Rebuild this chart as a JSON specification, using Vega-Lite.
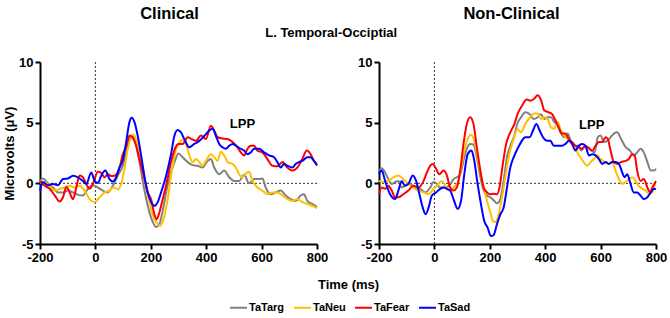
{
"$schema": "https://vega.github.io/schema/vega-lite/v6.json",
"padding": {"left": 3, "top": 5, "right": 2, "bottom": 2},
"title": {"text": "L. Temporal-Occiptial", "anchor": "middle", "fontSize": 13, "fontWeight": "bold", "font": "Liberation Sans", "color": "black", "offset": -34, "dx": -4},
"datasets": {
"erp": [
{"p":"Clinical","s":"TaTarg","t":-200,"v":0.2},{"p":"Clinical","s":"TaTarg","t":-189,"v":0.4},{"p":"Clinical","s":"TaTarg","t":-171,"v":0.0},{"p":"Clinical","s":"TaTarg","t":-153,"v":-0.35},{"p":"Clinical","s":"TaTarg","t":-135,"v":-0.75},{"p":"Clinical","s":"TaTarg","t":-117,"v":-0.75},{"p":"Clinical","s":"TaTarg","t":-99,"v":-0.6},{"p":"Clinical","s":"TaTarg","t":-81,"v":-0.75},{"p":"Clinical","s":"TaTarg","t":-63,"v":-0.95},{"p":"Clinical","s":"TaTarg","t":-45,"v":-1.0},{"p":"Clinical","s":"TaTarg","t":-27,"v":-0.45},{"p":"Clinical","s":"TaTarg","t":-9,"v":-0.15},{"p":"Clinical","s":"TaTarg","t":9,"v":-0.35},{"p":"Clinical","s":"TaTarg","t":27,"v":-0.6},{"p":"Clinical","s":"TaTarg","t":45,"v":-0.75},{"p":"Clinical","s":"TaTarg","t":63,"v":-0.2},{"p":"Clinical","s":"TaTarg","t":81,"v":0.65},{"p":"Clinical","s":"TaTarg","t":99,"v":1.45},{"p":"Clinical","s":"TaTarg","t":111,"v":2.55},{"p":"Clinical","s":"TaTarg","t":123,"v":3.65},{"p":"Clinical","s":"TaTarg","t":133,"v":3.95},{"p":"Clinical","s":"TaTarg","t":143,"v":3.5},{"p":"Clinical","s":"TaTarg","t":159,"v":1.75},{"p":"Clinical","s":"TaTarg","t":174,"v":-0.2},{"p":"Clinical","s":"TaTarg","t":189,"v":-1.85},{"p":"Clinical","s":"TaTarg","t":203,"v":-2.95},{"p":"Clinical","s":"TaTarg","t":219,"v":-3.6},{"p":"Clinical","s":"TaTarg","t":231,"v":-3.35},{"p":"Clinical","s":"TaTarg","t":243,"v":-2.25},{"p":"Clinical","s":"TaTarg","t":258,"v":-0.45},{"p":"Clinical","s":"TaTarg","t":273,"v":0.9},{"p":"Clinical","s":"TaTarg","t":287,"v":1.85},{"p":"Clinical","s":"TaTarg","t":300,"v":2.45},{"p":"Clinical","s":"TaTarg","t":315,"v":2.15},{"p":"Clinical","s":"TaTarg","t":333,"v":1.75},{"p":"Clinical","s":"TaTarg","t":351,"v":1.5},{"p":"Clinical","s":"TaTarg","t":369,"v":1.45},{"p":"Clinical","s":"TaTarg","t":387,"v":1.3},{"p":"Clinical","s":"TaTarg","t":405,"v":1.85},{"p":"Clinical","s":"TaTarg","t":417,"v":2.0},{"p":"Clinical","s":"TaTarg","t":429,"v":1.3},{"p":"Clinical","s":"TaTarg","t":447,"v":0.75},{"p":"Clinical","s":"TaTarg","t":465,"v":1.05},{"p":"Clinical","s":"TaTarg","t":483,"v":0.5},{"p":"Clinical","s":"TaTarg","t":501,"v":0.2},{"p":"Clinical","s":"TaTarg","t":519,"v":0.2},{"p":"Clinical","s":"TaTarg","t":537,"v":0.7},{"p":"Clinical","s":"TaTarg","t":555,"v":0.0},{"p":"Clinical","s":"TaTarg","t":573,"v":0.35},{"p":"Clinical","s":"TaTarg","t":591,"v":0.35},{"p":"Clinical","s":"TaTarg","t":603,"v":0.4},{"p":"Clinical","s":"TaTarg","t":615,"v":-0.35},{"p":"Clinical","s":"TaTarg","t":633,"v":-0.9},{"p":"Clinical","s":"TaTarg","t":651,"v":-0.75},{"p":"Clinical","s":"TaTarg","t":669,"v":-0.6},{"p":"Clinical","s":"TaTarg","t":687,"v":-1.0},{"p":"Clinical","s":"TaTarg","t":705,"v":-1.3},{"p":"Clinical","s":"TaTarg","t":723,"v":-1.45},{"p":"Clinical","s":"TaTarg","t":741,"v":-1.0},{"p":"Clinical","s":"TaTarg","t":753,"v":-0.9},{"p":"Clinical","s":"TaTarg","t":765,"v":-1.45},{"p":"Clinical","s":"TaTarg","t":783,"v":-1.7},{"p":"Clinical","s":"TaTarg","t":800,"v":-1.95},
{"p":"Clinical","s":"TaNeu","t":-200,"v":0.0},{"p":"Clinical","s":"TaNeu","t":-183,"v":0.1},{"p":"Clinical","s":"TaNeu","t":-165,"v":-0.2},{"p":"Clinical","s":"TaNeu","t":-147,"v":-0.6},{"p":"Clinical","s":"TaNeu","t":-129,"v":-0.45},{"p":"Clinical","s":"TaNeu","t":-111,"v":-0.35},{"p":"Clinical","s":"TaNeu","t":-93,"v":-0.2},{"p":"Clinical","s":"TaNeu","t":-75,"v":-0.35},{"p":"Clinical","s":"TaNeu","t":-57,"v":-0.2},{"p":"Clinical","s":"TaNeu","t":-39,"v":-0.6},{"p":"Clinical","s":"TaNeu","t":-21,"v":-1.3},{"p":"Clinical","s":"TaNeu","t":-3,"v":-1.55},{"p":"Clinical","s":"TaNeu","t":15,"v":-1.15},{"p":"Clinical","s":"TaNeu","t":33,"v":-0.75},{"p":"Clinical","s":"TaNeu","t":51,"v":-0.6},{"p":"Clinical","s":"TaNeu","t":66,"v":-0.35},{"p":"Clinical","s":"TaNeu","t":81,"v":-0.5},{"p":"Clinical","s":"TaNeu","t":93,"v":-0.05},{"p":"Clinical","s":"TaNeu","t":105,"v":1.2},{"p":"Clinical","s":"TaNeu","t":117,"v":2.85},{"p":"Clinical","s":"TaNeu","t":129,"v":3.8},{"p":"Clinical","s":"TaNeu","t":138,"v":4.0},{"p":"Clinical","s":"TaNeu","t":150,"v":3.4},{"p":"Clinical","s":"TaNeu","t":165,"v":1.75},{"p":"Clinical","s":"TaNeu","t":179,"v":0.1},{"p":"Clinical","s":"TaNeu","t":195,"v":-1.55},{"p":"Clinical","s":"TaNeu","t":210,"v":-2.8},{"p":"Clinical","s":"TaNeu","t":225,"v":-3.35},{"p":"Clinical","s":"TaNeu","t":234,"v":-3.5},{"p":"Clinical","s":"TaNeu","t":246,"v":-2.95},{"p":"Clinical","s":"TaNeu","t":261,"v":-1.3},{"p":"Clinical","s":"TaNeu","t":275,"v":0.9},{"p":"Clinical","s":"TaNeu","t":290,"v":2.7},{"p":"Clinical","s":"TaNeu","t":304,"v":3.4},{"p":"Clinical","s":"TaNeu","t":315,"v":3.6},{"p":"Clinical","s":"TaNeu","t":327,"v":3.25},{"p":"Clinical","s":"TaNeu","t":339,"v":2.3},{"p":"Clinical","s":"TaNeu","t":351,"v":1.75},{"p":"Clinical","s":"TaNeu","t":363,"v":2.0},{"p":"Clinical","s":"TaNeu","t":375,"v":1.75},{"p":"Clinical","s":"TaNeu","t":387,"v":1.45},{"p":"Clinical","s":"TaNeu","t":399,"v":1.85},{"p":"Clinical","s":"TaNeu","t":417,"v":2.4},{"p":"Clinical","s":"TaNeu","t":429,"v":2.15},{"p":"Clinical","s":"TaNeu","t":441,"v":1.85},{"p":"Clinical","s":"TaNeu","t":453,"v":2.6},{"p":"Clinical","s":"TaNeu","t":465,"v":2.3},{"p":"Clinical","s":"TaNeu","t":477,"v":1.75},{"p":"Clinical","s":"TaNeu","t":495,"v":1.6},{"p":"Clinical","s":"TaNeu","t":507,"v":1.3},{"p":"Clinical","s":"TaNeu","t":519,"v":0.75},{"p":"Clinical","s":"TaNeu","t":531,"v":0.5},{"p":"Clinical","s":"TaNeu","t":543,"v":0.8},{"p":"Clinical","s":"TaNeu","t":555,"v":0.95},{"p":"Clinical","s":"TaNeu","t":567,"v":0.2},{"p":"Clinical","s":"TaNeu","t":585,"v":-0.35},{"p":"Clinical","s":"TaNeu","t":603,"v":-0.6},{"p":"Clinical","s":"TaNeu","t":621,"v":-0.9},{"p":"Clinical","s":"TaNeu","t":639,"v":-0.75},{"p":"Clinical","s":"TaNeu","t":657,"v":-0.75},{"p":"Clinical","s":"TaNeu","t":675,"v":-1.0},{"p":"Clinical","s":"TaNeu","t":693,"v":-1.3},{"p":"Clinical","s":"TaNeu","t":711,"v":-1.45},{"p":"Clinical","s":"TaNeu","t":729,"v":-1.3},{"p":"Clinical","s":"TaNeu","t":747,"v":-1.55},{"p":"Clinical","s":"TaNeu","t":765,"v":-1.7},{"p":"Clinical","s":"TaNeu","t":783,"v":-1.85},{"p":"Clinical","s":"TaNeu","t":800,"v":-2.05},
{"p":"Clinical","s":"TaFear","t":-200,"v":0.15},{"p":"Clinical","s":"TaFear","t":-183,"v":-0.2},{"p":"Clinical","s":"TaFear","t":-165,"v":-0.45},{"p":"Clinical","s":"TaFear","t":-147,"v":-1.0},{"p":"Clinical","s":"TaFear","t":-129,"v":-1.5},{"p":"Clinical","s":"TaFear","t":-117,"v":-1.15},{"p":"Clinical","s":"TaFear","t":-105,"v":-0.3},{"p":"Clinical","s":"TaFear","t":-93,"v":-0.75},{"p":"Clinical","s":"TaFear","t":-81,"v":-1.3},{"p":"Clinical","s":"TaFear","t":-69,"v":-0.35},{"p":"Clinical","s":"TaFear","t":-57,"v":0.65},{"p":"Clinical","s":"TaFear","t":-45,"v":0.5},{"p":"Clinical","s":"TaFear","t":-33,"v":-0.05},{"p":"Clinical","s":"TaFear","t":-21,"v":-0.45},{"p":"Clinical","s":"TaFear","t":-9,"v":-0.05},{"p":"Clinical","s":"TaFear","t":9,"v":0.95},{"p":"Clinical","s":"TaFear","t":21,"v":0.85},{"p":"Clinical","s":"TaFear","t":33,"v":0.5},{"p":"Clinical","s":"TaFear","t":45,"v":0.75},{"p":"Clinical","s":"TaFear","t":57,"v":0.6},{"p":"Clinical","s":"TaFear","t":71,"v":0.65},{"p":"Clinical","s":"TaFear","t":87,"v":1.3},{"p":"Clinical","s":"TaFear","t":99,"v":2.4},{"p":"Clinical","s":"TaFear","t":111,"v":3.0},{"p":"Clinical","s":"TaFear","t":123,"v":3.95},{"p":"Clinical","s":"TaFear","t":133,"v":3.8},{"p":"Clinical","s":"TaFear","t":147,"v":3.1},{"p":"Clinical","s":"TaFear","t":159,"v":2.0},{"p":"Clinical","s":"TaFear","t":174,"v":0.65},{"p":"Clinical","s":"TaFear","t":189,"v":-0.75},{"p":"Clinical","s":"TaFear","t":201,"v":-1.3},{"p":"Clinical","s":"TaFear","t":213,"v":-2.55},{"p":"Clinical","s":"TaFear","t":221,"v":-2.95},{"p":"Clinical","s":"TaFear","t":231,"v":-2.4},{"p":"Clinical","s":"TaFear","t":243,"v":-1.3},{"p":"Clinical","s":"TaFear","t":255,"v":-0.2},{"p":"Clinical","s":"TaFear","t":273,"v":1.75},{"p":"Clinical","s":"TaFear","t":287,"v":2.85},{"p":"Clinical","s":"TaFear","t":300,"v":3.25},{"p":"Clinical","s":"TaFear","t":315,"v":3.25},{"p":"Clinical","s":"TaFear","t":333,"v":3.8},{"p":"Clinical","s":"TaFear","t":347,"v":3.65},{"p":"Clinical","s":"TaFear","t":363,"v":3.5},{"p":"Clinical","s":"TaFear","t":381,"v":3.95},{"p":"Clinical","s":"TaFear","t":399,"v":3.65},{"p":"Clinical","s":"TaFear","t":417,"v":4.75},{"p":"Clinical","s":"TaFear","t":429,"v":4.35},{"p":"Clinical","s":"TaFear","t":441,"v":3.8},{"p":"Clinical","s":"TaFear","t":459,"v":3.7},{"p":"Clinical","s":"TaFear","t":477,"v":3.65},{"p":"Clinical","s":"TaFear","t":495,"v":3.4},{"p":"Clinical","s":"TaFear","t":513,"v":2.97},{"p":"Clinical","s":"TaFear","t":525,"v":2.55},{"p":"Clinical","s":"TaFear","t":537,"v":2.3},{"p":"Clinical","s":"TaFear","t":549,"v":2.85},{"p":"Clinical","s":"TaFear","t":561,"v":3.1},{"p":"Clinical","s":"TaFear","t":573,"v":3.1},{"p":"Clinical","s":"TaFear","t":585,"v":2.7},{"p":"Clinical","s":"TaFear","t":603,"v":2.55},{"p":"Clinical","s":"TaFear","t":621,"v":2.0},{"p":"Clinical","s":"TaFear","t":639,"v":1.45},{"p":"Clinical","s":"TaFear","t":657,"v":1.4},{"p":"Clinical","s":"TaFear","t":675,"v":1.75},{"p":"Clinical","s":"TaFear","t":693,"v":1.3},{"p":"Clinical","s":"TaFear","t":711,"v":1.05},{"p":"Clinical","s":"TaFear","t":729,"v":1.3},{"p":"Clinical","s":"TaFear","t":747,"v":2.0},{"p":"Clinical","s":"TaFear","t":763,"v":2.7},{"p":"Clinical","s":"TaFear","t":777,"v":2.4},{"p":"Clinical","s":"TaFear","t":789,"v":1.85},{"p":"Clinical","s":"TaFear","t":800,"v":1.45},
{"p":"Clinical","s":"TaSad","t":-200,"v":-0.6},{"p":"Clinical","s":"TaSad","t":-189,"v":0.1},{"p":"Clinical","s":"TaSad","t":-171,"v":-0.15},{"p":"Clinical","s":"TaSad","t":-153,"v":-0.05},{"p":"Clinical","s":"TaSad","t":-135,"v":-0.15},{"p":"Clinical","s":"TaSad","t":-117,"v":0.35},{"p":"Clinical","s":"TaSad","t":-99,"v":0.4},{"p":"Clinical","s":"TaSad","t":-81,"v":0.63},{"p":"Clinical","s":"TaSad","t":-63,"v":0.5},{"p":"Clinical","s":"TaSad","t":-45,"v":0.2},{"p":"Clinical","s":"TaSad","t":-33,"v":-0.05},{"p":"Clinical","s":"TaSad","t":-15,"v":0.9},{"p":"Clinical","s":"TaSad","t":-3,"v":0.2},{"p":"Clinical","s":"TaSad","t":9,"v":0.03},{"p":"Clinical","s":"TaSad","t":21,"v":0.63},{"p":"Clinical","s":"TaSad","t":36,"v":1.05},{"p":"Clinical","s":"TaSad","t":51,"v":0.35},{"p":"Clinical","s":"TaSad","t":63,"v":0.15},{"p":"Clinical","s":"TaSad","t":75,"v":0.5},{"p":"Clinical","s":"TaSad","t":87,"v":1.3},{"p":"Clinical","s":"TaSad","t":99,"v":1.9},{"p":"Clinical","s":"TaSad","t":111,"v":3.4},{"p":"Clinical","s":"TaSad","t":123,"v":5.05},{"p":"Clinical","s":"TaSad","t":131,"v":5.4},{"p":"Clinical","s":"TaSad","t":141,"v":5.05},{"p":"Clinical","s":"TaSad","t":153,"v":3.9},{"p":"Clinical","s":"TaSad","t":165,"v":2.3},{"p":"Clinical","s":"TaSad","t":177,"v":0.6},{"p":"Clinical","s":"TaSad","t":189,"v":-0.75},{"p":"Clinical","s":"TaSad","t":201,"v":-1.55},{"p":"Clinical","s":"TaSad","t":213,"v":-1.85},{"p":"Clinical","s":"TaSad","t":225,"v":-1.55},{"p":"Clinical","s":"TaSad","t":237,"v":-0.75},{"p":"Clinical","s":"TaSad","t":255,"v":0.6},{"p":"Clinical","s":"TaSad","t":273,"v":2.4},{"p":"Clinical","s":"TaSad","t":285,"v":3.9},{"p":"Clinical","s":"TaSad","t":297,"v":4.4},{"p":"Clinical","s":"TaSad","t":309,"v":4.2},{"p":"Clinical","s":"TaSad","t":321,"v":3.65},{"p":"Clinical","s":"TaSad","t":339,"v":2.97},{"p":"Clinical","s":"TaSad","t":357,"v":3.25},{"p":"Clinical","s":"TaSad","t":375,"v":3.5},{"p":"Clinical","s":"TaSad","t":393,"v":3.9},{"p":"Clinical","s":"TaSad","t":411,"v":4.35},{"p":"Clinical","s":"TaSad","t":423,"v":4.5},{"p":"Clinical","s":"TaSad","t":435,"v":3.9},{"p":"Clinical","s":"TaSad","t":447,"v":3.25},{"p":"Clinical","s":"TaSad","t":459,"v":2.97},{"p":"Clinical","s":"TaSad","t":471,"v":2.85},{"p":"Clinical","s":"TaSad","t":483,"v":3.1},{"p":"Clinical","s":"TaSad","t":495,"v":3.25},{"p":"Clinical","s":"TaSad","t":507,"v":3.1},{"p":"Clinical","s":"TaSad","t":525,"v":2.85},{"p":"Clinical","s":"TaSad","t":537,"v":2.7},{"p":"Clinical","s":"TaSad","t":549,"v":2.4},{"p":"Clinical","s":"TaSad","t":561,"v":2.55},{"p":"Clinical","s":"TaSad","t":573,"v":2.85},{"p":"Clinical","s":"TaSad","t":591,"v":2.85},{"p":"Clinical","s":"TaSad","t":609,"v":2.55},{"p":"Clinical","s":"TaSad","t":627,"v":2.3},{"p":"Clinical","s":"TaSad","t":645,"v":2.15},{"p":"Clinical","s":"TaSad","t":657,"v":1.75},{"p":"Clinical","s":"TaSad","t":669,"v":1.3},{"p":"Clinical","s":"TaSad","t":681,"v":1.6},{"p":"Clinical","s":"TaSad","t":693,"v":1.45},{"p":"Clinical","s":"TaSad","t":711,"v":1.3},{"p":"Clinical","s":"TaSad","t":723,"v":1.6},{"p":"Clinical","s":"TaSad","t":735,"v":1.75},{"p":"Clinical","s":"TaSad","t":747,"v":1.85},{"p":"Clinical","s":"TaSad","t":765,"v":2.15},{"p":"Clinical","s":"TaSad","t":777,"v":2.15},{"p":"Clinical","s":"TaSad","t":789,"v":1.85},{"p":"Clinical","s":"TaSad","t":800,"v":1.55},
{"p":"Non-Clinical","s":"TaTarg","t":-200,"v":1.05},{"p":"Non-Clinical","s":"TaTarg","t":-190,"v":1.25},{"p":"Non-Clinical","s":"TaTarg","t":-178,"v":0.9},{"p":"Non-Clinical","s":"TaTarg","t":-166,"v":0.35},{"p":"Non-Clinical","s":"TaTarg","t":-154,"v":-0.05},{"p":"Non-Clinical","s":"TaTarg","t":-142,"v":0.1},{"p":"Non-Clinical","s":"TaTarg","t":-130,"v":0.2},{"p":"Non-Clinical","s":"TaTarg","t":-118,"v":-0.35},{"p":"Non-Clinical","s":"TaTarg","t":-106,"v":-0.2},{"p":"Non-Clinical","s":"TaTarg","t":-88,"v":-0.05},{"p":"Non-Clinical","s":"TaTarg","t":-70,"v":-0.35},{"p":"Non-Clinical","s":"TaTarg","t":-51,"v":-0.45},{"p":"Non-Clinical","s":"TaTarg","t":-33,"v":-0.75},{"p":"Non-Clinical","s":"TaTarg","t":-15,"v":-0.35},{"p":"Non-Clinical","s":"TaTarg","t":-3,"v":0.1},{"p":"Non-Clinical","s":"TaTarg","t":9,"v":-0.05},{"p":"Non-Clinical","s":"TaTarg","t":21,"v":-0.35},{"p":"Non-Clinical","s":"TaTarg","t":33,"v":-0.35},{"p":"Non-Clinical","s":"TaTarg","t":45,"v":-0.3},{"p":"Non-Clinical","s":"TaTarg","t":57,"v":-0.1},{"p":"Non-Clinical","s":"TaTarg","t":69,"v":0.35},{"p":"Non-Clinical","s":"TaTarg","t":81,"v":0.5},{"p":"Non-Clinical","s":"TaTarg","t":93,"v":0.75},{"p":"Non-Clinical","s":"TaTarg","t":105,"v":1.85},{"p":"Non-Clinical","s":"TaTarg","t":117,"v":2.85},{"p":"Non-Clinical","s":"TaTarg","t":129,"v":3.25},{"p":"Non-Clinical","s":"TaTarg","t":141,"v":3.2},{"p":"Non-Clinical","s":"TaTarg","t":153,"v":2.15},{"p":"Non-Clinical","s":"TaTarg","t":166,"v":0.5},{"p":"Non-Clinical","s":"TaTarg","t":178,"v":-0.6},{"p":"Non-Clinical","s":"TaTarg","t":190,"v":-1.0},{"p":"Non-Clinical","s":"TaTarg","t":202,"v":-1.15},{"p":"Non-Clinical","s":"TaTarg","t":214,"v":-1.4},{"p":"Non-Clinical","s":"TaTarg","t":226,"v":-1.65},{"p":"Non-Clinical","s":"TaTarg","t":238,"v":-1.3},{"p":"Non-Clinical","s":"TaTarg","t":250,"v":0.2},{"p":"Non-Clinical","s":"TaTarg","t":262,"v":2.15},{"p":"Non-Clinical","s":"TaTarg","t":274,"v":3.1},{"p":"Non-Clinical","s":"TaTarg","t":289,"v":3.95},{"p":"Non-Clinical","s":"TaTarg","t":300,"v":4.95},{"p":"Non-Clinical","s":"TaTarg","t":313,"v":5.45},{"p":"Non-Clinical","s":"TaTarg","t":328,"v":5.85},{"p":"Non-Clinical","s":"TaTarg","t":344,"v":5.7},{"p":"Non-Clinical","s":"TaTarg","t":358,"v":5.3},{"p":"Non-Clinical","s":"TaTarg","t":373,"v":5.45},{"p":"Non-Clinical","s":"TaTarg","t":385,"v":5.7},{"p":"Non-Clinical","s":"TaTarg","t":397,"v":5.3},{"p":"Non-Clinical","s":"TaTarg","t":409,"v":5.45},{"p":"Non-Clinical","s":"TaTarg","t":421,"v":5.45},{"p":"Non-Clinical","s":"TaTarg","t":433,"v":5.05},{"p":"Non-Clinical","s":"TaTarg","t":445,"v":4.75},{"p":"Non-Clinical","s":"TaTarg","t":457,"v":4.1},{"p":"Non-Clinical","s":"TaTarg","t":469,"v":3.8},{"p":"Non-Clinical","s":"TaTarg","t":481,"v":4.1},{"p":"Non-Clinical","s":"TaTarg","t":494,"v":3.4},{"p":"Non-Clinical","s":"TaTarg","t":506,"v":3.1},{"p":"Non-Clinical","s":"TaTarg","t":518,"v":3.1},{"p":"Non-Clinical","s":"TaTarg","t":530,"v":2.7},{"p":"Non-Clinical","s":"TaTarg","t":542,"v":3.0},{"p":"Non-Clinical","s":"TaTarg","t":554,"v":3.0},{"p":"Non-Clinical","s":"TaTarg","t":566,"v":2.7},{"p":"Non-Clinical","s":"TaTarg","t":578,"v":2.55},{"p":"Non-Clinical","s":"TaTarg","t":590,"v":3.8},{"p":"Non-Clinical","s":"TaTarg","t":600,"v":3.95},{"p":"Non-Clinical","s":"TaTarg","t":612,"v":3.4},{"p":"Non-Clinical","s":"TaTarg","t":624,"v":3.5},{"p":"Non-Clinical","s":"TaTarg","t":636,"v":3.8},{"p":"Non-Clinical","s":"TaTarg","t":648,"v":4.1},{"p":"Non-Clinical","s":"TaTarg","t":660,"v":4.2},{"p":"Non-Clinical","s":"TaTarg","t":674,"v":3.65},{"p":"Non-Clinical","s":"TaTarg","t":690,"v":3.0},{"p":"Non-Clinical","s":"TaTarg","t":706,"v":2.7},{"p":"Non-Clinical","s":"TaTarg","t":720,"v":2.3},{"p":"Non-Clinical","s":"TaTarg","t":732,"v":2.55},{"p":"Non-Clinical","s":"TaTarg","t":744,"v":2.85},{"p":"Non-Clinical","s":"TaTarg","t":756,"v":2.55},{"p":"Non-Clinical","s":"TaTarg","t":769,"v":1.75},{"p":"Non-Clinical","s":"TaTarg","t":781,"v":1.05},{"p":"Non-Clinical","s":"TaTarg","t":793,"v":1.05},{"p":"Non-Clinical","s":"TaTarg","t":800,"v":1.2},
{"p":"Non-Clinical","s":"TaNeu","t":-200,"v":0.2},{"p":"Non-Clinical","s":"TaNeu","t":-184,"v":0.1},{"p":"Non-Clinical","s":"TaNeu","t":-166,"v":0.2},{"p":"Non-Clinical","s":"TaNeu","t":-148,"v":0.5},{"p":"Non-Clinical","s":"TaNeu","t":-130,"v":0.65},{"p":"Non-Clinical","s":"TaNeu","t":-112,"v":0.35},{"p":"Non-Clinical","s":"TaNeu","t":-94,"v":-0.05},{"p":"Non-Clinical","s":"TaNeu","t":-76,"v":-0.35},{"p":"Non-Clinical","s":"TaNeu","t":-57,"v":-0.6},{"p":"Non-Clinical","s":"TaNeu","t":-39,"v":-0.75},{"p":"Non-Clinical","s":"TaNeu","t":-21,"v":-0.9},{"p":"Non-Clinical","s":"TaNeu","t":-3,"v":-0.45},{"p":"Non-Clinical","s":"TaNeu","t":15,"v":-0.05},{"p":"Non-Clinical","s":"TaNeu","t":27,"v":0.2},{"p":"Non-Clinical","s":"TaNeu","t":39,"v":-0.2},{"p":"Non-Clinical","s":"TaNeu","t":51,"v":-0.6},{"p":"Non-Clinical","s":"TaNeu","t":63,"v":-0.45},{"p":"Non-Clinical","s":"TaNeu","t":75,"v":-0.2},{"p":"Non-Clinical","s":"TaNeu","t":87,"v":0.2},{"p":"Non-Clinical","s":"TaNeu","t":99,"v":1.6},{"p":"Non-Clinical","s":"TaNeu","t":111,"v":3.0},{"p":"Non-Clinical","s":"TaNeu","t":123,"v":3.8},{"p":"Non-Clinical","s":"TaNeu","t":133,"v":4.0},{"p":"Non-Clinical","s":"TaNeu","t":145,"v":3.4},{"p":"Non-Clinical","s":"TaNeu","t":160,"v":1.6},{"p":"Non-Clinical","s":"TaNeu","t":175,"v":-0.05},{"p":"Non-Clinical","s":"TaNeu","t":190,"v":-1.45},{"p":"Non-Clinical","s":"TaNeu","t":202,"v":-2.4},{"p":"Non-Clinical","s":"TaNeu","t":211,"v":-3.1},{"p":"Non-Clinical","s":"TaNeu","t":221,"v":-3.2},{"p":"Non-Clinical","s":"TaNeu","t":232,"v":-2.55},{"p":"Non-Clinical","s":"TaNeu","t":244,"v":-1.15},{"p":"Non-Clinical","s":"TaNeu","t":256,"v":0.5},{"p":"Non-Clinical","s":"TaNeu","t":268,"v":2.15},{"p":"Non-Clinical","s":"TaNeu","t":286,"v":3.65},{"p":"Non-Clinical","s":"TaNeu","t":300,"v":4.45},{"p":"Non-Clinical","s":"TaNeu","t":313,"v":4.2},{"p":"Non-Clinical","s":"TaNeu","t":328,"v":4.9},{"p":"Non-Clinical","s":"TaNeu","t":346,"v":5.45},{"p":"Non-Clinical","s":"TaNeu","t":361,"v":5.75},{"p":"Non-Clinical","s":"TaNeu","t":373,"v":5.75},{"p":"Non-Clinical","s":"TaNeu","t":385,"v":5.3},{"p":"Non-Clinical","s":"TaNeu","t":397,"v":5.45},{"p":"Non-Clinical","s":"TaNeu","t":409,"v":5.3},{"p":"Non-Clinical","s":"TaNeu","t":421,"v":4.6},{"p":"Non-Clinical","s":"TaNeu","t":433,"v":4.5},{"p":"Non-Clinical","s":"TaNeu","t":445,"v":5.05},{"p":"Non-Clinical","s":"TaNeu","t":457,"v":4.35},{"p":"Non-Clinical","s":"TaNeu","t":469,"v":3.95},{"p":"Non-Clinical","s":"TaNeu","t":481,"v":3.65},{"p":"Non-Clinical","s":"TaNeu","t":494,"v":3.5},{"p":"Non-Clinical","s":"TaNeu","t":509,"v":2.85},{"p":"Non-Clinical","s":"TaNeu","t":527,"v":2.15},{"p":"Non-Clinical","s":"TaNeu","t":539,"v":1.75},{"p":"Non-Clinical","s":"TaNeu","t":551,"v":1.45},{"p":"Non-Clinical","s":"TaNeu","t":564,"v":1.75},{"p":"Non-Clinical","s":"TaNeu","t":576,"v":2.0},{"p":"Non-Clinical","s":"TaNeu","t":588,"v":2.3},{"p":"Non-Clinical","s":"TaNeu","t":600,"v":2.0},{"p":"Non-Clinical","s":"TaNeu","t":614,"v":1.75},{"p":"Non-Clinical","s":"TaNeu","t":630,"v":1.6},{"p":"Non-Clinical","s":"TaNeu","t":642,"v":1.75},{"p":"Non-Clinical","s":"TaNeu","t":654,"v":1.05},{"p":"Non-Clinical","s":"TaNeu","t":666,"v":0.35},{"p":"Non-Clinical","s":"TaNeu","t":678,"v":-0.05},{"p":"Non-Clinical","s":"TaNeu","t":690,"v":0.1},{"p":"Non-Clinical","s":"TaNeu","t":702,"v":0.35},{"p":"Non-Clinical","s":"TaNeu","t":714,"v":0.5},{"p":"Non-Clinical","s":"TaNeu","t":726,"v":0.2},{"p":"Non-Clinical","s":"TaNeu","t":738,"v":-0.2},{"p":"Non-Clinical","s":"TaNeu","t":750,"v":-0.45},{"p":"Non-Clinical","s":"TaNeu","t":763,"v":-0.6},{"p":"Non-Clinical","s":"TaNeu","t":775,"v":-0.9},{"p":"Non-Clinical","s":"TaNeu","t":787,"v":-0.75},{"p":"Non-Clinical","s":"TaNeu","t":795,"v":-0.2},{"p":"Non-Clinical","s":"TaNeu","t":800,"v":-0.1},
{"p":"Non-Clinical","s":"TaFear","t":-200,"v":-0.9},{"p":"Non-Clinical","s":"TaFear","t":-190,"v":-0.35},{"p":"Non-Clinical","s":"TaFear","t":-178,"v":-0.45},{"p":"Non-Clinical","s":"TaFear","t":-166,"v":-0.2},{"p":"Non-Clinical","s":"TaFear","t":-154,"v":-0.6},{"p":"Non-Clinical","s":"TaFear","t":-142,"v":-1.15},{"p":"Non-Clinical","s":"TaFear","t":-130,"v":-1.15},{"p":"Non-Clinical","s":"TaFear","t":-112,"v":-0.9},{"p":"Non-Clinical","s":"TaFear","t":-94,"v":-0.6},{"p":"Non-Clinical","s":"TaFear","t":-76,"v":-0.2},{"p":"Non-Clinical","s":"TaFear","t":-57,"v":-0.35},{"p":"Non-Clinical","s":"TaFear","t":-39,"v":0.2},{"p":"Non-Clinical","s":"TaFear","t":-27,"v":0.9},{"p":"Non-Clinical","s":"TaFear","t":-15,"v":1.45},{"p":"Non-Clinical","s":"TaFear","t":-6,"v":1.6},{"p":"Non-Clinical","s":"TaFear","t":6,"v":1.2},{"p":"Non-Clinical","s":"TaFear","t":18,"v":0.75},{"p":"Non-Clinical","s":"TaFear","t":33,"v":1.05},{"p":"Non-Clinical","s":"TaFear","t":45,"v":0.65},{"p":"Non-Clinical","s":"TaFear","t":57,"v":-0.35},{"p":"Non-Clinical","s":"TaFear","t":69,"v":-0.6},{"p":"Non-Clinical","s":"TaFear","t":81,"v":-0.35},{"p":"Non-Clinical","s":"TaFear","t":93,"v":1.05},{"p":"Non-Clinical","s":"TaFear","t":105,"v":3.25},{"p":"Non-Clinical","s":"TaFear","t":117,"v":4.9},{"p":"Non-Clinical","s":"TaFear","t":129,"v":5.45},{"p":"Non-Clinical","s":"TaFear","t":141,"v":4.9},{"p":"Non-Clinical","s":"TaFear","t":153,"v":3.0},{"p":"Non-Clinical","s":"TaFear","t":166,"v":1.05},{"p":"Non-Clinical","s":"TaFear","t":178,"v":-0.35},{"p":"Non-Clinical","s":"TaFear","t":190,"v":-0.75},{"p":"Non-Clinical","s":"TaFear","t":202,"v":-0.9},{"p":"Non-Clinical","s":"TaFear","t":214,"v":-0.85},{"p":"Non-Clinical","s":"TaFear","t":226,"v":-0.9},{"p":"Non-Clinical","s":"TaFear","t":235,"v":-0.35},{"p":"Non-Clinical","s":"TaFear","t":247,"v":1.6},{"p":"Non-Clinical","s":"TaFear","t":259,"v":3.25},{"p":"Non-Clinical","s":"TaFear","t":274,"v":4.2},{"p":"Non-Clinical","s":"TaFear","t":289,"v":4.9},{"p":"Non-Clinical","s":"TaFear","t":300,"v":5.7},{"p":"Non-Clinical","s":"TaFear","t":316,"v":6.4},{"p":"Non-Clinical","s":"TaFear","t":334,"v":6.9},{"p":"Non-Clinical","s":"TaFear","t":346,"v":6.8},{"p":"Non-Clinical","s":"TaFear","t":359,"v":6.95},{"p":"Non-Clinical","s":"TaFear","t":373,"v":7.25},{"p":"Non-Clinical","s":"TaFear","t":385,"v":6.85},{"p":"Non-Clinical","s":"TaFear","t":397,"v":6.0},{"p":"Non-Clinical","s":"TaFear","t":413,"v":5.85},{"p":"Non-Clinical","s":"TaFear","t":425,"v":5.7},{"p":"Non-Clinical","s":"TaFear","t":437,"v":5.2},{"p":"Non-Clinical","s":"TaFear","t":449,"v":4.6},{"p":"Non-Clinical","s":"TaFear","t":461,"v":4.1},{"p":"Non-Clinical","s":"TaFear","t":473,"v":4.1},{"p":"Non-Clinical","s":"TaFear","t":485,"v":3.65},{"p":"Non-Clinical","s":"TaFear","t":497,"v":3.4},{"p":"Non-Clinical","s":"TaFear","t":509,"v":3.1},{"p":"Non-Clinical","s":"TaFear","t":521,"v":3.0},{"p":"Non-Clinical","s":"TaFear","t":533,"v":2.85},{"p":"Non-Clinical","s":"TaFear","t":545,"v":3.1},{"p":"Non-Clinical","s":"TaFear","t":558,"v":2.85},{"p":"Non-Clinical","s":"TaFear","t":570,"v":2.7},{"p":"Non-Clinical","s":"TaFear","t":582,"v":3.1},{"p":"Non-Clinical","s":"TaFear","t":594,"v":3.4},{"p":"Non-Clinical","s":"TaFear","t":606,"v":3.4},{"p":"Non-Clinical","s":"TaFear","t":618,"v":3.8},{"p":"Non-Clinical","s":"TaFear","t":626,"v":3.65},{"p":"Non-Clinical","s":"TaFear","t":636,"v":2.7},{"p":"Non-Clinical","s":"TaFear","t":648,"v":1.75},{"p":"Non-Clinical","s":"TaFear","t":660,"v":1.6},{"p":"Non-Clinical","s":"TaFear","t":674,"v":1.75},{"p":"Non-Clinical","s":"TaFear","t":690,"v":1.85},{"p":"Non-Clinical","s":"TaFear","t":702,"v":2.0},{"p":"Non-Clinical","s":"TaFear","t":714,"v":2.4},{"p":"Non-Clinical","s":"TaFear","t":723,"v":2.3},{"p":"Non-Clinical","s":"TaFear","t":732,"v":1.05},{"p":"Non-Clinical","s":"TaFear","t":744,"v":0.2},{"p":"Non-Clinical","s":"TaFear","t":756,"v":0.35},{"p":"Non-Clinical","s":"TaFear","t":769,"v":-0.35},{"p":"Non-Clinical","s":"TaFear","t":778,"v":-0.75},{"p":"Non-Clinical","s":"TaFear","t":787,"v":-0.35},{"p":"Non-Clinical","s":"TaFear","t":800,"v":0.2},
{"p":"Non-Clinical","s":"TaSad","t":-200,"v":0.75},{"p":"Non-Clinical","s":"TaSad","t":-190,"v":1.05},{"p":"Non-Clinical","s":"TaSad","t":-178,"v":0.2},{"p":"Non-Clinical","s":"TaSad","t":-160,"v":-0.9},{"p":"Non-Clinical","s":"TaSad","t":-142,"v":-1.3},{"p":"Non-Clinical","s":"TaSad","t":-130,"v":-0.6},{"p":"Non-Clinical","s":"TaSad","t":-118,"v":0.2},{"p":"Non-Clinical","s":"TaSad","t":-106,"v":-0.2},{"p":"Non-Clinical","s":"TaSad","t":-94,"v":-0.05},{"p":"Non-Clinical","s":"TaSad","t":-78,"v":0.65},{"p":"Non-Clinical","s":"TaSad","t":-66,"v":0.2},{"p":"Non-Clinical","s":"TaSad","t":-54,"v":-0.9},{"p":"Non-Clinical","s":"TaSad","t":-42,"v":-2.0},{"p":"Non-Clinical","s":"TaSad","t":-32,"v":-2.55},{"p":"Non-Clinical","s":"TaSad","t":-21,"v":-2.0},{"p":"Non-Clinical","s":"TaSad","t":-9,"v":-1.0},{"p":"Non-Clinical","s":"TaSad","t":6,"v":-0.75},{"p":"Non-Clinical","s":"TaSad","t":21,"v":-0.45},{"p":"Non-Clinical","s":"TaSad","t":33,"v":-0.35},{"p":"Non-Clinical","s":"TaSad","t":45,"v":-0.45},{"p":"Non-Clinical","s":"TaSad","t":57,"v":-0.6},{"p":"Non-Clinical","s":"TaSad","t":69,"v":-1.3},{"p":"Non-Clinical","s":"TaSad","t":84,"v":-2.1},{"p":"Non-Clinical","s":"TaSad","t":96,"v":-1.45},{"p":"Non-Clinical","s":"TaSad","t":108,"v":0.75},{"p":"Non-Clinical","s":"TaSad","t":120,"v":2.4},{"p":"Non-Clinical","s":"TaSad","t":134,"v":2.7},{"p":"Non-Clinical","s":"TaSad","t":144,"v":1.85},{"p":"Non-Clinical","s":"TaSad","t":156,"v":-0.05},{"p":"Non-Clinical","s":"TaSad","t":168,"v":-1.7},{"p":"Non-Clinical","s":"TaSad","t":180,"v":-3.1},{"p":"Non-Clinical","s":"TaSad","t":192,"v":-3.65},{"p":"Non-Clinical","s":"TaSad","t":204,"v":-4.35},{"p":"Non-Clinical","s":"TaSad","t":214,"v":-4.25},{"p":"Non-Clinical","s":"TaSad","t":226,"v":-3.35},{"p":"Non-Clinical","s":"TaSad","t":238,"v":-2.55},{"p":"Non-Clinical","s":"TaSad","t":250,"v":-2.0},{"p":"Non-Clinical","s":"TaSad","t":262,"v":-0.35},{"p":"Non-Clinical","s":"TaSad","t":274,"v":1.3},{"p":"Non-Clinical","s":"TaSad","t":289,"v":2.3},{"p":"Non-Clinical","s":"TaSad","t":300,"v":2.85},{"p":"Non-Clinical","s":"TaSad","t":313,"v":3.4},{"p":"Non-Clinical","s":"TaSad","t":328,"v":3.8},{"p":"Non-Clinical","s":"TaSad","t":344,"v":3.8},{"p":"Non-Clinical","s":"TaSad","t":356,"v":4.35},{"p":"Non-Clinical","s":"TaSad","t":368,"v":4.9},{"p":"Non-Clinical","s":"TaSad","t":380,"v":4.35},{"p":"Non-Clinical","s":"TaSad","t":392,"v":3.8},{"p":"Non-Clinical","s":"TaSad","t":407,"v":3.5},{"p":"Non-Clinical","s":"TaSad","t":419,"v":3.5},{"p":"Non-Clinical","s":"TaSad","t":431,"v":3.1},{"p":"Non-Clinical","s":"TaSad","t":445,"v":3.1},{"p":"Non-Clinical","s":"TaSad","t":461,"v":3.1},{"p":"Non-Clinical","s":"TaSad","t":473,"v":3.25},{"p":"Non-Clinical","s":"TaSad","t":485,"v":3.5},{"p":"Non-Clinical","s":"TaSad","t":497,"v":3.25},{"p":"Non-Clinical","s":"TaSad","t":509,"v":2.7},{"p":"Non-Clinical","s":"TaSad","t":521,"v":3.1},{"p":"Non-Clinical","s":"TaSad","t":533,"v":3.25},{"p":"Non-Clinical","s":"TaSad","t":545,"v":3.1},{"p":"Non-Clinical","s":"TaSad","t":558,"v":2.3},{"p":"Non-Clinical","s":"TaSad","t":570,"v":2.4},{"p":"Non-Clinical","s":"TaSad","t":582,"v":2.3},{"p":"Non-Clinical","s":"TaSad","t":594,"v":2.0},{"p":"Non-Clinical","s":"TaSad","t":606,"v":1.6},{"p":"Non-Clinical","s":"TaSad","t":618,"v":1.75},{"p":"Non-Clinical","s":"TaSad","t":630,"v":1.6},{"p":"Non-Clinical","s":"TaSad","t":642,"v":1.75},{"p":"Non-Clinical","s":"TaSad","t":654,"v":1.75},{"p":"Non-Clinical","s":"TaSad","t":666,"v":1.6},{"p":"Non-Clinical","s":"TaSad","t":678,"v":0.9},{"p":"Non-Clinical","s":"TaSad","t":686,"v":0.5},{"p":"Non-Clinical","s":"TaSad","t":696,"v":0.75},{"p":"Non-Clinical","s":"TaSad","t":708,"v":-0.05},{"p":"Non-Clinical","s":"TaSad","t":720,"v":-0.75},{"p":"Non-Clinical","s":"TaSad","t":732,"v":-0.75},{"p":"Non-Clinical","s":"TaSad","t":744,"v":-1.0},{"p":"Non-Clinical","s":"TaSad","t":756,"v":-1.3},{"p":"Non-Clinical","s":"TaSad","t":769,"v":-1.15},{"p":"Non-Clinical","s":"TaSad","t":781,"v":-0.75},{"p":"Non-Clinical","s":"TaSad","t":793,"v":-0.45},{"p":"Non-Clinical","s":"TaSad","t":800,"v":-0.5}
],
"lpp": [
{"p":"Clinical","t":531,"v":4.85,"label":"LPP"},
{"p":"Non-Clinical","t":568,"v":4.83,"label":"LPP"}
],
"zero": [{"z":0}]
},
"spacing": 62,
"bounds": "flush",
"hconcat": [
{
"title": {"text": "Clinical", "fontSize": 16.5, "frame": "group", "anchor": "middle", "dx": -9, "offset": 34},
"width": 277, "height": 182,
"layer": [
{"data": {"name": "zero"}, "mark": {"type": "rule", "color": "#333333", "strokeWidth": 1, "strokeDash": [2, 2]}, "encoding": {"x": {"field": "z", "type": "quantitative", "scale": {"domain": [-200, 800], "nice": false}}}},
{"data": {"name": "zero"}, "mark": {"type": "rule", "color": "#333333", "strokeWidth": 1, "strokeDash": [2, 2]}, "encoding": {"y": {"field": "z", "type": "quantitative", "scale": {"domain": [-5, 10], "nice": false}}}},
{"data": {"name": "erp"}, "transform": [{"filter": "datum.p === 'Clinical'"}],
 "mark": {"type": "line", "strokeWidth": 2, "interpolate": "monotone"},
 "encoding": {
  "x": {"field": "t", "type": "quantitative", "scale": {"domain": [-200, 800], "nice": false}, "axis": {"values": [-200, 0, 200, 400, 600, 800], "title": "Time (ms)", "titleX": 308, "titlePadding": 14, "labelFlush": false, "labelExpr": "'' + datum.value"}},
  "y": {"field": "v", "type": "quantitative", "scale": {"domain": [-5, 10], "nice": false}, "axis": {"values": [-5, 0, 5, 10], "title": "Microvolts (μV)", "titlePadding": 2, "labelExpr": "'' + datum.value"}},
  "color": {"field": "s", "type": "nominal", "scale": {"domain": ["TaTarg", "TaNeu", "TaFear", "TaSad"], "range": ["#808080", "#FFC000", "#FF0000", "#0000FF"]},
   "legend": {"orient": "none", "legendX": 189, "legendY": 236, "direction": "horizontal", "title": null, "symbolType": "stroke", "symbolStrokeWidth": 2, "symbolSize": 289, "labelFontSize": 11, "labelFontWeight": "bold", "labelColor": "black", "labelOffset": 1, "columnPadding": 5}},
  "order": {"field": "t", "type": "quantitative"}
 }},
{"data": {"name": "lpp"}, "transform": [{"filter": "datum.p === 'Clinical'"}],
 "mark": {"type": "text", "fontSize": 13, "fontWeight": "bold", "color": "black", "align": "center", "baseline": "middle"},
 "encoding": {"x": {"field": "t", "type": "quantitative"}, "y": {"field": "v", "type": "quantitative"}, "text": {"field": "label"}}}
]
},
{
"title": {"text": "Non-Clinical", "fontSize": 16.5, "frame": "group", "anchor": "middle", "dx": -6, "offset": 34},
"width": 277, "height": 182,
"layer": [
{"data": {"name": "zero"}, "mark": {"type": "rule", "color": "#333333", "strokeWidth": 1, "strokeDash": [2, 2]}, "encoding": {"x": {"field": "z", "type": "quantitative", "scale": {"domain": [-200, 800], "nice": false}}}},
{"data": {"name": "zero"}, "mark": {"type": "rule", "color": "#333333", "strokeWidth": 1, "strokeDash": [2, 2]}, "encoding": {"y": {"field": "z", "type": "quantitative", "scale": {"domain": [-5, 10], "nice": false}}}},
{"data": {"name": "erp"}, "transform": [{"filter": "datum.p === 'Non-Clinical'"}],
 "mark": {"type": "line", "strokeWidth": 2, "interpolate": "monotone"},
 "encoding": {
  "x": {"field": "t", "type": "quantitative", "scale": {"domain": [-200, 800], "nice": false}, "axis": {"values": [-200, 0, 200, 400, 600, 800], "title": null, "labelFlush": false, "labelExpr": "'' + datum.value"}},
  "y": {"field": "v", "type": "quantitative", "scale": {"domain": [-5, 10], "nice": false}, "axis": {"values": [-5, 0, 5, 10], "title": null, "labelExpr": "'' + datum.value"}},
  "color": {"field": "s", "type": "nominal", "scale": {"domain": ["TaTarg", "TaNeu", "TaFear", "TaSad"], "range": ["#808080", "#FFC000", "#FF0000", "#0000FF"]},
   "legend": {"orient": "none", "legendX": 189, "legendY": 236, "direction": "horizontal", "title": null, "symbolType": "stroke", "symbolStrokeWidth": 2, "symbolSize": 289, "labelFontSize": 11, "labelFontWeight": "bold", "labelColor": "black", "labelOffset": 1, "columnPadding": 5}},
  "order": {"field": "t", "type": "quantitative"}
 }},
{"data": {"name": "lpp"}, "transform": [{"filter": "datum.p === 'Non-Clinical'"}],
 "mark": {"type": "text", "fontSize": 13, "fontWeight": "bold", "color": "black", "align": "center", "baseline": "middle"},
 "encoding": {"x": {"field": "t", "type": "quantitative"}, "y": {"field": "v", "type": "quantitative"}, "text": {"field": "label"}}}
]
}
],
"config": {
"font": "Liberation Sans",
"view": {"stroke": null},
"axis": {"domainColor": "black", "domainWidth": 2, "tickColor": "black", "tickWidth": 2, "tickSize": 5, "labelFontSize": 13, "labelFontWeight": "bold", "labelColor": "black", "labelPadding": 2, "grid": false, "titleFontSize": 13, "titleFontWeight": "bold", "titleColor": "black"},
"title": {"fontWeight": "bold", "color": "black", "font": "Liberation Sans"},
"legend": {"labelFont": "Liberation Sans"}
}
}
